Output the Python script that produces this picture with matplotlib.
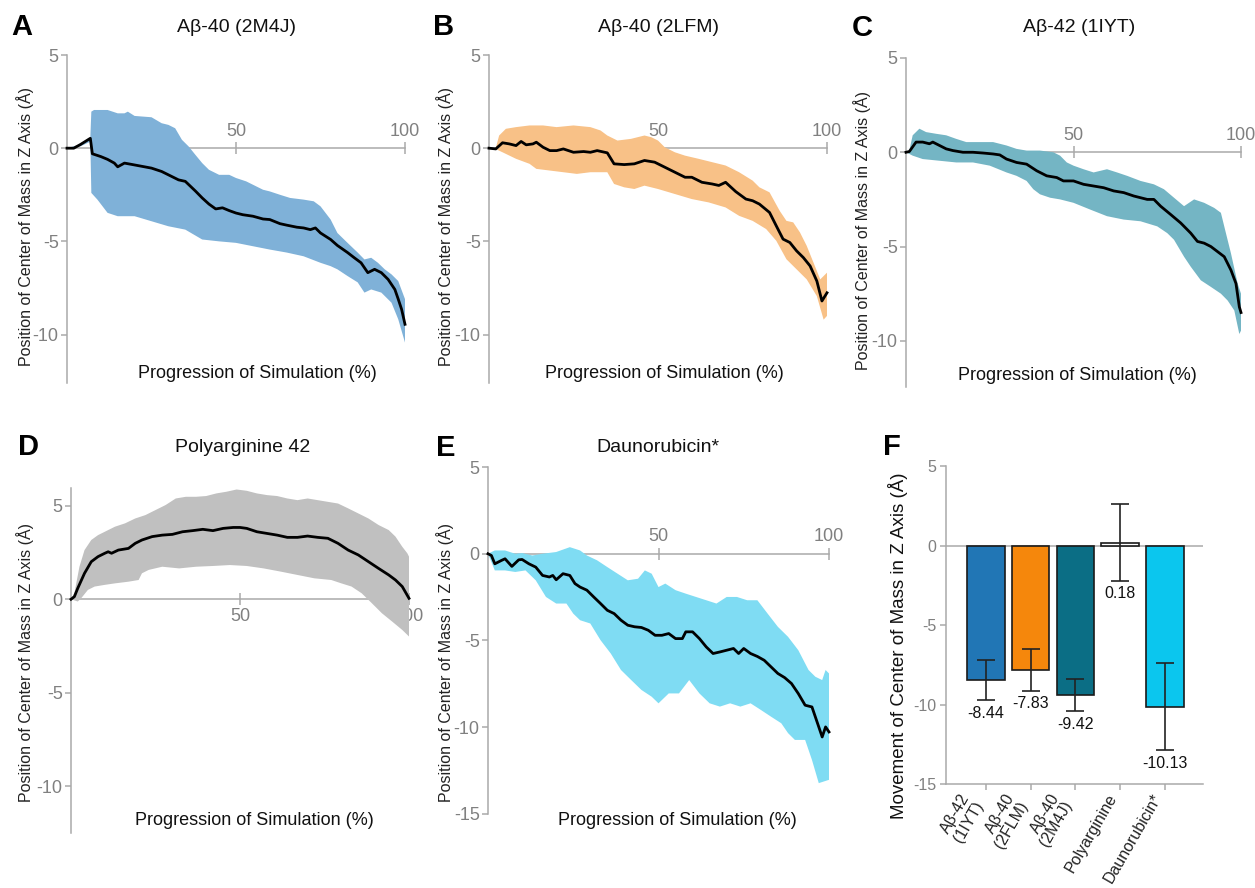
import matplotlib.pyplot as plt
import numpy as np

plt.rcParams["font.family"] = ["Liberation Sans", "DejaVu Sans"]
plt.rcParams["axes.unicode_minus"] = False

W, H = 1255, 888
GRAY_TXT = "#808080"
GRAY_AX = "#a9a9a9"

# (progress of simulation %, z position in A)
A_MEAN = [(0, 0), (2, 0), (4, 0.2), (6.9, 0.53), (7.5, -0.3), (10, -0.45), (12, -0.6), (14, -0.8),
          (15, -1.0), (17, -0.8), (20, -0.9), (25, -1.07), (28, -1.25), (30, -1.43), (33, -1.7),
          (35, -1.78), (38, -2.3), (40, -2.67), (42, -3.0), (44, -3.26), (46, -3.2), (48, -3.35),
          (50, -3.48), (52, -3.57), (55, -3.65), (58, -3.8), (60, -3.83), (63, -4.05), (65, -4.13),
          (68, -4.24), (70, -4.28), (72, -4.37), (73.5, -4.28), (75, -4.55), (78, -4.9), (80, -5.22),
          (83, -5.6), (85, -5.88), (87, -6.15), (89, -6.68), (91, -6.5), (93, -6.68), (95, -7.04),
          (97, -7.58), (98, -8.1), (99, -8.65), (100, -9.45)]
A_UPPER = [(0, 0), (3, 0.15), (6.9, 0.55), (7.2, 1.96), (8, 2.05), (12, 2.05), (15, 1.87), (17, 1.87),
           (18, 1.96), (20, 1.73), (25, 1.66), (28, 1.34), (30, 1.25), (32, 1.07), (34, 0.45), (36, 0.09),
           (38, -0.36), (40, -0.8), (42, -1.16), (45, -1.43), (48, -1.43), (50, -1.6), (53, -1.78),
           (55, -1.96), (58, -2.23), (60, -2.32), (63, -2.5), (66, -2.67), (70, -2.76), (73, -2.85),
           (75, -3.12), (78, -3.83), (80, -4.55), (83, -5.08), (86, -5.6), (88, -5.97), (90, -5.88),
           (92, -6.15), (94, -6.5), (96, -6.77), (98, -7.13), (100, -8.1)]
A_LOWER = [(0, 0), (4, 0.1), (6.9, 0.35), (7.2, -2.4), (9, -2.76), (12, -3.47), (15, -3.65), (20, -3.65),
           (25, -3.92), (30, -4.19), (35, -4.37), (40, -4.9), (45, -5.0), (50, -5.08), (55, -5.26),
           (60, -5.44), (65, -5.6), (70, -5.8), (75, -6.15), (78, -6.33), (80, -6.5), (83, -6.86),
           (86, -7.2), (88, -7.75), (90, -7.58), (93, -7.75), (96, -8.29), (98, -9.18), (100, -10.43)]

B_MEAN = [(0, 0), (2, -0.04), (4, 0.29), (6, 0.23), (8, 0.14), (9.5, 0.36), (11, 0.18), (13, 0.23),
          (14, 0.32), (16, 0.05), (18, -0.13), (20, -0.13), (22, -0.04), (25, -0.22), (28, -0.18),
          (30, -0.22), (32, -0.13), (35, -0.25), (37, -0.84), (40, -0.88), (43, -0.84), (46, -0.66),
          (49, -0.75), (52, -1.02), (55, -1.29), (58, -1.56), (60, -1.56), (63, -1.83), (66, -1.92),
          (68, -2.0), (70, -1.83), (73, -2.33), (76, -2.73), (78, -2.82), (80, -3.0), (83, -3.45),
          (85, -4.17), (87, -4.88), (89, -5.06), (91, -5.51), (93, -5.87), (95, -6.32), (97, -7.13),
          (98.5, -8.2), (100, -7.76)]
B_UPPER = [(0, 0), (2, 0.0), (3, 0.68), (5, 1.04), (8, 1.13), (12, 1.22), (16, 1.22), (20, 1.13),
           (25, 1.22), (30, 1.13), (33, 0.95), (35, 0.68), (38, 0.41), (42, 0.5), (46, 0.68), (48, 0.59),
           (50, 0.41), (52, 0.05), (55, -0.22), (58, -0.4), (62, -0.57), (66, -0.75), (70, -0.93),
           (74, -1.29), (78, -1.74), (80, -2.1), (83, -2.37), (86, -3.36), (88, -3.9), (90, -3.98),
           (92, -4.52), (94, -5.24), (96, -6.14), (98, -7.04), (100, -6.68)]
B_LOWER = [(0, 0), (2, -0.05), (4, -0.22), (8, -0.57), (12, -0.84), (14, -1.11), (18, -1.2), (22, -1.29),
           (26, -1.38), (30, -1.29), (35, -1.29), (37, -1.92), (40, -2.1), (43, -2.19), (46, -2.01),
           (50, -2.19), (55, -2.46), (60, -2.73), (65, -2.91), (70, -3.18), (74, -3.63), (78, -3.9),
           (82, -4.34), (85, -4.97), (88, -5.96), (91, -6.5), (94, -7.04), (97, -7.94), (99, -9.2),
           (100, -9.0)]

C_MEAN = [(0, 0), (1, 0.04), (3, 0.54), (5, 0.54), (7, 0.45), (8, 0.54), (10, 0.36), (12, 0.18),
          (14, 0.09), (17, 0), (20, 0), (23, -0.04), (26, -0.09), (28, -0.14), (30, -0.36), (33, -0.54),
          (36, -0.63), (39, -0.98), (42, -1.25), (45, -1.34), (47, -1.52), (50, -1.52), (53, -1.7),
          (56, -1.79), (59, -1.88), (62, -2.05), (65, -2.14), (68, -2.32), (70, -2.41), (72, -2.5),
          (74, -2.5), (76, -2.86), (79, -3.3), (82, -3.75), (85, -4.29), (87, -4.73), (89, -4.82),
          (91, -5.0), (93, -5.27), (95, -5.54), (97, -6.25), (98.5, -6.96), (99.5, -8.2), (100, -8.5)]
C_UPPER = [(0, 0), (1, 0.1), (2, 0.9), (4, 1.25), (6, 1.07), (9, 0.98), (12, 0.9), (15, 0.71), (18, 0.54),
           (22, 0.54), (26, 0.54), (30, 0.36), (33, 0.18), (36, 0.09), (40, 0.09), (44, 0), (46, -0.18),
           (48, -0.54), (50, -0.71), (53, -0.9), (56, -1.07), (60, -0.9), (63, -1.07), (66, -1.25),
           (70, -1.52), (74, -1.7), (77, -1.96), (80, -2.41), (83, -2.86), (86, -2.5), (89, -2.68),
           (92, -2.95), (94, -3.21), (95.5, -4.29), (97, -5.36), (99, -6.96), (100, -7.5)]
C_LOWER = [(0, 0), (2, -0.18), (5, -0.36), (10, -0.45), (15, -0.54), (20, -0.54), (25, -0.71),
           (30, -1.07), (33, -1.25), (36, -1.52), (38, -1.96), (40, -2.23), (43, -2.41), (46, -2.5),
           (50, -2.68), (55, -3.04), (60, -3.39), (65, -3.57), (70, -3.66), (75, -3.93), (78, -4.29),
           (80, -4.64), (83, -5.54), (85, -6.07), (88, -6.79), (91, -7.14), (94, -7.5), (96, -7.86),
           (98, -8.39), (99.5, -9.64), (100, -9.46)]

D_MEAN = [(0, 0), (1, 0.14), (2, 0.59), (4, 1.39), (6, 2.01), (8, 2.28), (10, 2.46), (11, 2.54),
          (12, 2.46), (14, 2.63), (17, 2.72), (19, 2.99), (21, 3.17), (24, 3.35), (27, 3.43), (30, 3.47),
          (33, 3.61), (36, 3.67), (39, 3.74), (42, 3.67), (45, 3.79), (48, 3.84), (50, 3.84), (52, 3.79),
          (55, 3.61), (58, 3.52), (61, 3.43), (64, 3.31), (67, 3.31), (70, 3.38), (73, 3.31), (76, 3.26),
          (79, 2.99), (82, 2.63), (85, 2.37), (88, 2.01), (91, 1.65), (94, 1.3), (96, 1.03), (98, 0.68),
          (100, 0.05)]
D_UPPER = [(0, 0), (1, 0.32), (2.5, 1.74), (4, 2.63), (6, 3.17), (8, 3.43), (10, 3.61), (13, 3.88),
           (16, 4.06), (19, 4.32), (22, 4.5), (25, 4.77), (28, 5.04), (31, 5.39), (34, 5.48), (37, 5.48),
           (40, 5.52), (43, 5.66), (46, 5.75), (49, 5.87), (52, 5.8), (55, 5.66), (58, 5.57), (61, 5.52),
           (64, 5.39), (67, 5.3), (70, 5.39), (73, 5.3), (76, 5.21), (79, 5.12), (82, 4.86), (85, 4.59),
           (88, 4.32), (91, 3.97), (94, 3.7), (96, 3.35), (98, 2.81), (99.5, 2.46), (100, 2.28)]
D_LOWER = [(0, 0), (2, -0.12), (3, 0.05), (5, 0.5), (7, 0.68), (10, 0.77), (13, 0.85), (17, 0.94),
           (20, 1.03), (21, 1.39), (23, 1.57), (27, 1.74), (32, 1.65), (37, 1.74), (42, 1.78), (47, 1.83),
           (52, 1.78), (57, 1.65), (62, 1.48), (67, 1.3), (72, 1.12), (77, 1.03), (80, 0.85), (83, 0.68),
           (86, 0.32), (89, -0.21), (92, -0.75), (95, -1.19), (98, -1.64), (100, -1.99)]

E_MEAN = [(0, 0), (1, -0.1), (2, -0.58), (4, -0.38), (5, -0.29), (7, -0.73), (9, -0.35), (10, -0.33),
          (12, -0.58), (14, -0.77), (16, -1.25), (18, -1.34), (19, -1.25), (20, -1.5), (22, -1.15),
          (24, -1.25), (25.5, -1.72), (27, -1.92), (29, -2.1), (31, -2.49), (33, -2.87), (35, -3.26),
          (37, -3.45), (39, -3.83), (41, -4.12), (43, -4.21), (45, -4.25), (47, -4.41), (49, -4.7),
          (51, -4.7), (53, -4.6), (55, -4.89), (57, -4.89), (58, -4.5), (60, -4.5), (62, -4.89),
          (64, -5.37), (66, -5.75), (68, -5.66), (70, -5.56), (72, -5.46), (73.5, -5.75), (75, -5.46),
          (77, -5.75), (79, -5.92), (81, -6.14), (83, -6.52), (85, -6.9), (87, -7.14), (89, -7.48),
          (91, -8.06), (93, -8.73), (95, -8.83), (97, -9.98), (98, -10.56), (99, -9.98), (100, -10.27)]
E_UPPER = [(0, 0), (2, 0.19), (5, 0.19), (8, 0), (10, 0.04), (13, -0.1), (16, 0), (20, 0.1), (24, 0.38),
           (27, 0.19), (29, -0.1), (32, -0.38), (35, -0.77), (38, -1.15), (41, -1.53), (44, -1.44),
           (46, -0.96), (48, -1.15), (50, -1.92), (52, -1.72), (55, -2.1), (58, -2.3), (61, -2.49),
           (64, -2.68), (67, -2.87), (70, -2.49), (73, -2.49), (76, -2.68), (79, -2.68), (82, -3.45),
           (85, -4.21), (88, -4.79), (91, -5.56), (94, -6.7), (96, -7.09), (98, -7.28), (99, -6.7),
           (100, -6.9)]
E_LOWER = [(0, 0), (2, -0.96), (5, -0.96), (8, -1.05), (11, -0.96), (14, -1.53), (17, -2.49), (20, -2.87),
           (23, -2.87), (25, -3.45), (27, -3.83), (30, -4.02), (33, -4.98), (36, -5.75), (39, -6.7),
           (42, -7.28), (45, -7.85), (48, -8.24), (50, -8.62), (53, -8.05), (56, -8.05), (59, -7.28),
           (62, -8.05), (65, -8.62), (68, -8.81), (71, -8.62), (74, -8.81), (77, -8.62), (80, -9.0),
           (83, -9.39), (86, -9.77), (88, -10.34), (90, -10.73), (93, -10.73), (95, -11.88), (97, -13.22),
           (100, -13.03)]

BAR_LABELS = ["Aβ-42\n(1IYT)", "Aβ-40\n(2FLM)", "Aβ-40\n(2M4J)", "Polyarginine", "Daunorubicin*"]
BAR_VALUES = [-8.44, -7.83, -9.42, 0.18, -10.13]
BAR_ERRORS = [1.27, 1.3, 1.02, 2.4, 2.72]
BAR_COLORS = ["#2176b5", "#f5870c", "#0b6e85", "#ffffff", "#0bc6ee"]

YLABEL = "Position of Center of Mass in Z Axis (Å)"
XLABEL = "Progression of Simulation (%)"

fig = plt.figure(figsize=(W / 100, H / 100), dpi=100)


def fx(px):
    return px / W


def fy(px):
    return 1 - px / H


def trace_panel(rect, ylim, yticks, mean, upper, lower, color, above=True):
    l, r, t, b = rect
    ax = fig.add_axes([fx(l), fy(b), (r - l) / W, (b - t) / H])
    ax.patch.set_alpha(0)
    ax.set_xlim(0, 100)
    ax.set_ylim(*ylim)
    xside, other = ("top", "bottom") if above else ("bottom", "top")
    ax.spines[other].set_visible(False)
    ax.spines["right"].set_visible(False)
    ax.spines[xside].set_position(("data", 0))
    for s in ("left", xside):
        ax.spines[s].set_color(GRAY_AX)
        ax.spines[s].set_linewidth(1.1)
    ax.xaxis.set_ticks_position(xside)
    ax.set_xticks([50, 100])
    ax.set_yticks(yticks)
    ax.tick_params(axis="x", direction="inout", length=8, width=1.1, color=GRAY_AX,
                   labelcolor=GRAY_TXT, labelsize=13, pad=2)
    ax.tick_params(axis="y", direction="out", length=4, width=1.1, color=GRAY_AX,
                   labelcolor=GRAY_TXT, labelsize=13, pad=2)

    up = np.array(upper)
    lo = np.array(lower)
    ax.fill(np.concatenate([up[:, 0], lo[::-1, 0]]), np.concatenate([up[:, 1], lo[::-1, 1]]),
            color=color, lw=0, zorder=2.6, clip_on=False)
    m = np.array(mean)
    ax.plot(m[:, 0], m[:, 1], color="black", lw=2, zorder=3, clip_on=False)
    return ax


trace_panel((67, 405, 55, 383), (-12.6, 5), [5, 0, -5, -10], A_MEAN, A_UPPER, A_LOWER, "#7fb1d8")
trace_panel((489, 827, 55, 383), (-12.6, 5), [5, 0, -5, -10], B_MEAN, B_UPPER, B_LOWER, "#f8c187")
trace_panel((906, 1241, 58, 387), (-12.45, 5), [5, 0, -5, -10], C_MEAN, C_UPPER, C_LOWER, "#74b5c4")
trace_panel((71, 409, 488, 833), (-12.5, 5.95), [5, 0, -5, -10], D_MEAN, D_UPPER, D_LOWER, "#c0c0c0",
            above=False)
trace_panel((488, 829, 467, 814), (-15, 5), [5, 0, -5, -10, -15], E_MEAN, E_UPPER, E_LOWER, "#7fdcf3")

# bar panel F
axf = fig.add_axes([fx(946), fy(784), (1203 - 946) / W, (784 - 466) / H])
axf.patch.set_alpha(0)
pos = np.arange(len(BAR_VALUES))
axf.axhline(0, color=GRAY_AX, lw=1.1, zorder=1)
axf.bar(pos, BAR_VALUES, width=0.84, color=BAR_COLORS, edgecolor="#1a1a1a", lw=1.2, zorder=2)
axf.errorbar(pos, BAR_VALUES, yerr=BAR_ERRORS, fmt="none", ecolor="#222222", elinewidth=1.2,
             capsize=6.5, capthick=1.2, zorder=3)
for p, v, e in zip(pos, BAR_VALUES, BAR_ERRORS):
    axf.annotate(f"{v:.2f}", (p, v - e), xytext=(0, -9.5), textcoords="offset points",
                 ha="center", va="center", fontsize=11.5, color="#111111")
axf.set_xlim(-0.89, 4.85)
axf.set_ylim(-15, 5)
axf.set_yticks([5, 0, -5, -10, -15])
axf.set_xticks(pos)
axf.set_xticklabels(BAR_LABELS, rotation=60, ha="right", fontsize=11.5, color="#222222",
                    linespacing=1.0)
axf.spines["top"].set_visible(False)
axf.spines["right"].set_visible(False)
for s in ("left", "bottom"):
    axf.spines[s].set_color(GRAY_AX)
    axf.spines[s].set_linewidth(1.1)
axf.tick_params(axis="x", direction="out", length=4, width=1.1, color=GRAY_AX, pad=1)
axf.tick_params(axis="y", direction="out", length=4, width=1.1, color=GRAY_AX,
                labelcolor=GRAY_TXT, labelsize=11.5, pad=3)

# titles, axis labels and panel letters placed in pixel coordinates
TITLES = [("Aβ-40 (2M4J)", 237, 28), ("Aβ-40 (2LFM)", 659, 28), ("Aβ-42 (1IYT)", 1079, 28),
          ("Polyarginine 42", 243, 447), ("Daunorubicin*", 658, 448)]
for txt, x, y in TITLES:
    fig.text(fx(x), fy(y), txt, ha="center", va="center", fontsize=14, color="#111111")

for x, y in [(257, 373), (664, 373), (1077, 375), (254, 820), (677, 820)]:
    fig.text(fx(x), fy(y), XLABEL, ha="center", va="center", fontsize=13, color="#111111")

for x, y in [(25.5, 226), (445.5, 226), (862.5, 231), (25.5, 662), (445.5, 662)]:
    fig.text(fx(x), fy(y), YLABEL, ha="center", va="center", rotation=90, fontsize=11.5,
             color="#222222")
fig.text(fx(897.5), fy(646), "Movement of Center of Mass in Z Axis (Å)", ha="center", va="center",
         rotation=90, fontsize=13.5, color="#111111")

for letter, x, y in [("A", 22, 27), ("B", 444, 27), ("C", 862, 28), ("D", 29, 447), ("E", 446, 448),
                     ("F", 892, 447)]:
    fig.text(fx(x), fy(y), letter, ha="center", va="center", fontsize=21, fontweight="bold")

fig.savefig("out.png", dpi=100)
